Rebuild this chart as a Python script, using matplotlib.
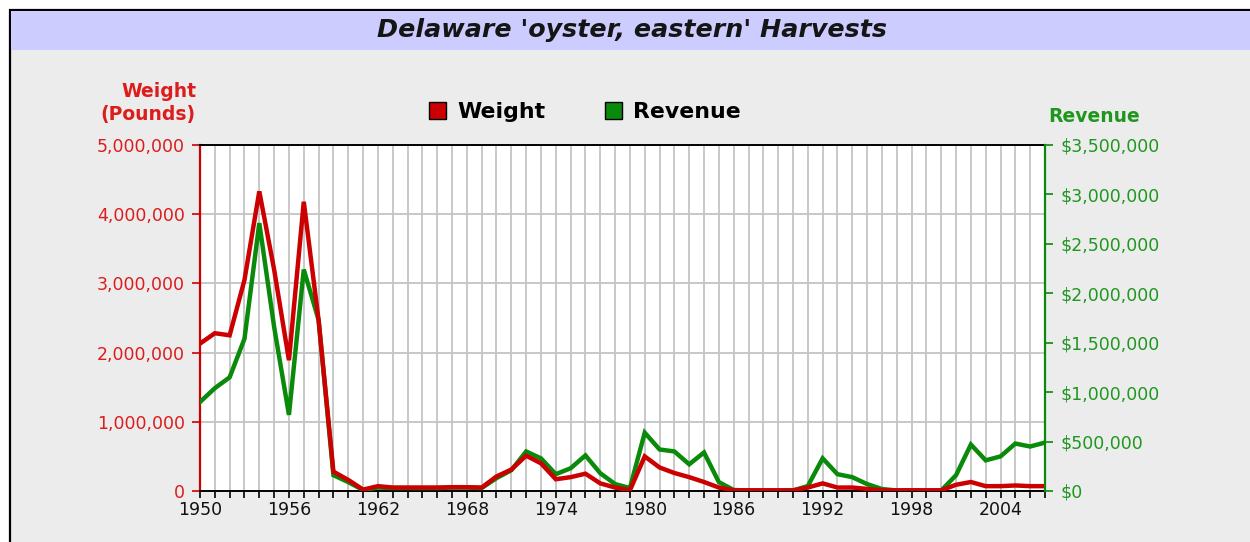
import matplotlib
matplotlib.use("Agg")
import matplotlib.pyplot as plt
from matplotlib.patches import Rectangle, Patch
from matplotlib.ticker import FuncFormatter, MultipleLocator

years = list(range(1950, 2008))
weight = [2130000, 2280000, 2250000, 3050000, 4330000, 3200000, 1890000, 4180000, 2470000, 280000,
          160000, 20000, 70000, 50000, 50000, 50000, 50000, 55000, 55000, 50000,
          210000, 310000, 510000, 400000, 170000, 200000, 250000, 110000, 50000, 10000,
          500000, 340000, 260000, 200000, 130000, 50000, 10000, 10000, 10000, 10000,
          10000, 50000, 110000, 50000, 50000, 30000, 10000, 10000, 10000, 10000,
          10000, 90000, 130000, 70000, 70000, 80000, 70000, 70000]
revenue = [900000, 1040000, 1150000, 1540000, 2710000, 1660000, 770000, 2240000, 1730000, 160000,
           90000, 10000, 35000, 30000, 30000, 30000, 30000, 35000, 35000, 30000,
           130000, 210000, 400000, 330000, 170000, 230000, 360000, 180000, 70000, 30000,
           590000, 420000, 400000, 270000, 390000, 90000, 10000, 5000, 5000, 5000,
           5000, 50000, 330000, 170000, 140000, 70000, 20000, 5000, 5000, 5000,
           5000, 160000, 470000, 310000, 350000, 480000, 450000, 490000]
title = "Delaware 'oyster, eastern' Harvests"
weight_ticks = [0, 1000000, 2000000, 3000000, 4000000, 5000000]
revenue_ticks = [0, 500000, 1000000, 1500000, 2000000, 2500000, 3000000, 3500000]
year_labels = list(range(1950, 2005, 6))

W, H = 1250, 542
RED = "#cc0000"
GREEN = "#0a8a0a"
RED_TXT = "#dd1c1c"
GREEN_TXT = "#1f971f"

plt.rcParams['font.family'] = ['DejaVu Sans']

fig = plt.figure(figsize=(W / 100, H / 100), dpi=100)
fig.patch.set_facecolor("white")

def fx(px):
    return px / W

def fy(py):
    return 1 - py / H

# panel background with border on left and top
fig.patches.append(Rectangle((fx(10), fy(560)), fx(1260) - fx(10), fy(10) - fy(560),
                             transform=fig.transFigure, facecolor="#ececec",
                             edgecolor="black", linewidth=1.6, zorder=-5))
# title band
fig.patches.append(Rectangle((fx(11), fy(50)), fx(1260) - fx(11), fy(11) - fy(50),
                             transform=fig.transFigure, facecolor="#ccccff",
                             edgecolor="none", zorder=-4))
fig.text(fx(632), fy(30), title, ha="center", va="center", fontsize=18.3,
         style="italic", fontweight="bold", color="#151515")

left, right, top, bottom = 200, 1045, 145, 491
ax = fig.add_axes([fx(left), fy(bottom), fx(right) - fx(left), fy(top) - fy(bottom)])
ax.set_facecolor("white")
ax2 = ax.twinx()

ax.set_xlim(1950, 2007)
ax.set_ylim(0, 5000000)
ax2.set_ylim(0, 3500000)

ax.set_axisbelow(True)
ax.xaxis.set_major_locator(MultipleLocator(1))
ax.set_yticks(weight_ticks)
ax.xaxis.set_major_formatter(FuncFormatter(lambda v, p: str(int(round(v))) if int(round(v)) in year_labels else ""))
ax.yaxis.set_major_formatter(FuncFormatter(lambda v, p: f"{int(v):,}"))
ax2.set_yticks(revenue_ticks)
ax2.yaxis.set_major_formatter(FuncFormatter(lambda v, p: f"${int(v):,}"))

ax.grid(True, color="#c4c4c4", linewidth=1.3)

ax.plot(years, revenue, color=GREEN, linewidth=3.2, transform=ax2.transData, zorder=3,
        solid_joinstyle="miter")
ax.plot(years, weight, color=RED, linewidth=3.2, zorder=4, solid_joinstyle="miter")

ax.tick_params(axis="x", direction="out", length=5, width=1.2, color="black",
               labelsize=12.5, pad=2, labelcolor="#111111")
ax.tick_params(axis="y", direction="out", length=6, width=1.2, color=RED,
               labelsize=12.5, pad=5, labelcolor=RED_TXT)
ax2.tick_params(axis="y", direction="out", length=6, width=1.2, color=GREEN,
                labelsize=12.5, pad=5, labelcolor=GREEN_TXT)

for s in ["top", "bottom"]:
    ax.spines[s].set_color("black")
    ax.spines[s].set_linewidth(1.4)
ax.spines["left"].set_color(RED)
ax.spines["left"].set_linewidth(1.6)
ax.spines["right"].set_visible(False)
for s in ["top", "bottom", "left"]:
    ax2.spines[s].set_visible(False)
ax2.spines["right"].set_color(GREEN)
ax2.spines["right"].set_linewidth(1.6)

fig.text(fx(196), fy(103), "Weight\n(Pounds)", ha="right", va="center", fontsize=13.5,
         fontweight="bold", color=RED_TXT, linespacing=1.25, multialignment="right")
fig.text(fx(1094), fy(116), "Revenue", ha="center", va="center", fontsize=13.5,
         fontweight="bold", color=GREEN_TXT)

handles = [Patch(facecolor=RED, edgecolor="black", label="Weight"),
           Patch(facecolor=GREEN, edgecolor="black", label="Revenue")]
fig.legend(handles=handles, loc="center", bbox_to_anchor=(fx(585), fy(112)), ncol=2,
           frameon=False, handlelength=0.78, handleheight=0.78, handletextpad=0.5,
           columnspacing=2.7, borderpad=0, prop={"weight": "bold", "size": 15.8})

fig.savefig("out.png", dpi=100)
